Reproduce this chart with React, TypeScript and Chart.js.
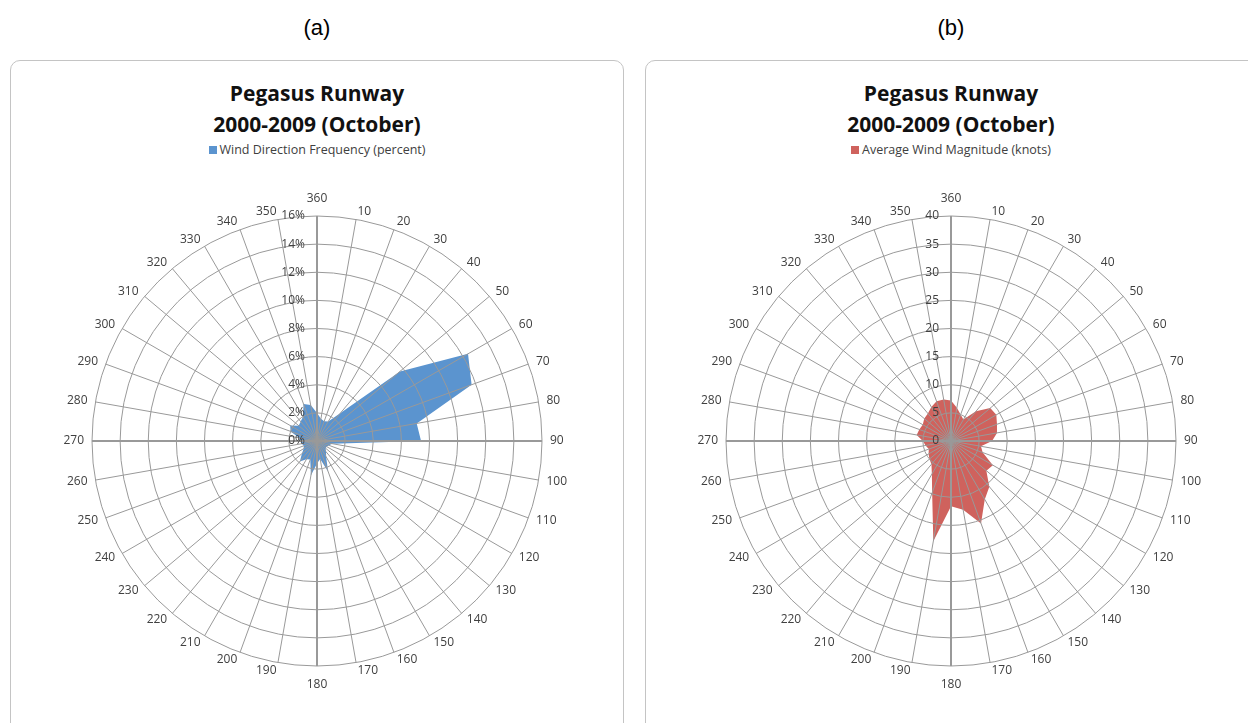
import React, { useEffect, useRef } from 'react';
import { Chart, registerables } from 'chart.js';

Chart.register(...registerables);

const directionLabels = [
  '360', '10', '20', '30', '40', '50', '60', '70', '80', '90', '100', '110',
  '120', '130', '140', '150', '160', '170', '180', '190', '200', '210', '220', '230',
  '240', '250', '260', '270', '280', '290', '300', '310', '320', '330', '340', '350',
];

// Wind Direction Frequency (percent)
const frequencyValues = [
  2.0, 1.6, 1.5, 1.6, 2.6, 7.7, 12.4, 11.7, 7.2, 7.4, 1.1, 0.9,
  0.8, 0.8, 1.0, 1.3, 2.3, 1.3, 1.6, 2.5, 1.4, 1.5, 1.9, 1.4,
  1.1, 1.0, 1.1, 1.2, 1.3, 2.0, 2.2, 1.7, 1.8, 2.0, 2.8, 2.6,
];

// Average Wind Magnitude (knots)
const magnitudeValues = [
  7.2, 6.0, 5.0, 4.4, 6.9, 9.1, 9.3, 8.7, 8.3, 7.3, 5.4, 6.0,
  8.6, 8.2, 10.6, 12.0, 15.6, 12.4, 11.6, 18.1, 9.8, 6.8, 5.4, 5.0,
  4.6, 4.2, 4.6, 5.0, 6.2, 6.0, 5.8, 6.2, 6.4, 7.0, 7.5, 7.5,
];

const frequencyTicks = [0, 2, 4, 6, 8, 10, 12, 14, 16];
const magnitudeTicks = [0, 5, 10, 15, 20, 25, 30, 35, 40];

const titleLines = ['Pegasus Runway', '2000-2009 (October)'];

type RoseProps = {
  cx: number;
  panelLeft: number;
  caption: string;
  legendText: string;
  color: string;
  values: number[];
  ticks: number[];
  suffix: string;
};

const CANVAS_W = 600;
const CANVAS_H = 560;
const CANVAS_TOP = 161;
const RADIUS = 225;
const CENTER_Y = 441;
const GRID = '#999999';

function RoseChart(props: RoseProps) {
  const ref = useRef<HTMLCanvasElement | null>(null);
  useEffect(() => {
    const canvas = ref.current;
    if (!canvas) return;
    const localCy = CENTER_Y - CANVAS_TOP;
    const padTop = localCy - RADIUS;
    const padLeft = CANVAS_W / 2 - RADIUS;
    const padBottom = CANVAS_H - padTop - 2 * RADIUS;
    const ticks = props.ticks;
    const labelPlugin = {
      id: 'roseLabels',
      afterDraw(chart: any) {
        const scale = chart.scales.r;
        const ctx = chart.ctx as CanvasRenderingContext2D;
        ctx.save();
        ctx.fillStyle = '#404040';
        ctx.font = '12px "Open Sans"';
        ctx.textBaseline = 'middle';
        const R = scale.drawingArea;
        directionLabels.forEach((lab, i) => {
          const p = scale.getPointPosition(i, R + 8);
          const deg = Math.round((scale.getIndexAngle(i) * 180) / Math.PI) % 360;
          let x = p.x;
          let y = p.y;
          if (deg === 0) {
            ctx.textAlign = 'center';
            y -= 9;
          } else if (deg === 180) {
            ctx.textAlign = 'center';
            y += 11;
          } else if (deg < 180) {
            ctx.textAlign = 'left';
          } else {
            ctx.textAlign = 'right';
          }
          ctx.fillText(lab, x, y);
        });
        ctx.textAlign = 'right';
        ticks.forEach((v) => {
          const d = scale.getDistanceFromCenterForValue(v);
          ctx.fillText(v + props.suffix, scale.xCenter - 12, scale.yCenter - d);
        });
        ctx.restore();
      },
    };
    const chart = new Chart(canvas, {
      type: 'radar',
      data: {
        labels: directionLabels,
        datasets: [
          {
            label: props.legendText,
            data: props.values,
            backgroundColor: props.color,
            borderWidth: 0,
            pointRadius: 0,
            fill: true,
            tension: 0,
          },
        ],
      },
      options: {
        responsive: false,
        maintainAspectRatio: false,
        animation: false,
        layout: { padding: { left: padLeft, right: padLeft, top: padTop, bottom: padBottom } },
        plugins: {
          legend: { display: false },
          title: { display: false },
          tooltip: { enabled: false },
        },
        scales: {
          r: {
            min: ticks[0],
            max: ticks[ticks.length - 1],
            ticks: { display: false, stepSize: ticks[1] - ticks[0] },
            grid: { circular: true, color: GRID, lineWidth: 1, z: 1 },
            angleLines: {
              color: GRID,
              lineWidth: (c: any) => (c.index % 9 === 0 ? 2 : 1),
            },
            pointLabels: { display: false },
          },
        },
      },
      plugins: [labelPlugin],
    } as any);
    return () => chart.destroy();
  }, []);

  const { cx } = props;
  return (
    <>
      <div
        style={{
          position: 'absolute',
          left: props.panelLeft,
          top: 60,
          width: 614,
          height: 700,
          boxSizing: 'border-box',
          border: '1.5px solid #c4c4c4',
          borderRadius: 10,
          background: '#fff',
        }}
      />
      <div
        style={{
          position: 'absolute',
          left: cx - 100,
          width: 200,
          top: 15,
          textAlign: 'center',
          font: '22px "Liberation Sans", Arial, sans-serif',
          lineHeight: '26px',
          color: '#000',
        }}
      >
        {props.caption}
      </div>
      {titleLines.map((t, i) => (
        <div
          key={i}
          style={{
            position: 'absolute',
            left: cx - 200,
            width: 400,
            top: 78 + i * 31,
            textAlign: 'center',
            font: 'bold 21px "Open Sans", sans-serif',
            lineHeight: '30px',
            color: '#111',
          }}
        >
          {t}
        </div>
      ))}
      <div
        style={{
          position: 'absolute',
          left: cx - 200,
          width: 400,
          top: 142,
          display: 'flex',
          justifyContent: 'center',
          alignItems: 'center',
          font: '12.5px "Open Sans", sans-serif',
          lineHeight: '16px',
          color: '#404040',
        }}
      >
        <span style={{ display: 'inline-block', width: 8, height: 8, background: props.color, marginRight: 3 }} />
        <span>{props.legendText}</span>
      </div>
      <canvas
        ref={ref}
        width={CANVAS_W}
        height={CANVAS_H}
        style={{
          position: 'absolute',
          left: cx - CANVAS_W / 2,
          top: CANVAS_TOP,
          width: CANVAS_W,
          height: CANVAS_H,
        }}
      />
    </>
  );
}

export default function App() {
  return (
    <div style={{ position: 'absolute', left: 0, top: 0, width: 1248, height: 723, overflow: 'hidden', background: '#fff' }}>
      <RoseChart
        cx={317}
        panelLeft={10}
        caption="(a)"
        legendText="Wind Direction Frequency (percent)"
        color="#5b94cf"
        values={frequencyValues}
        ticks={frequencyTicks}
        suffix="%"
      />
      <RoseChart
        cx={951}
        panelLeft={645}
        caption="(b)"
        legendText="Average Wind Magnitude (knots)"
        color="#cf625d"
        values={magnitudeValues}
        ticks={magnitudeTicks}
        suffix=""
      />
    </div>
  );
}
